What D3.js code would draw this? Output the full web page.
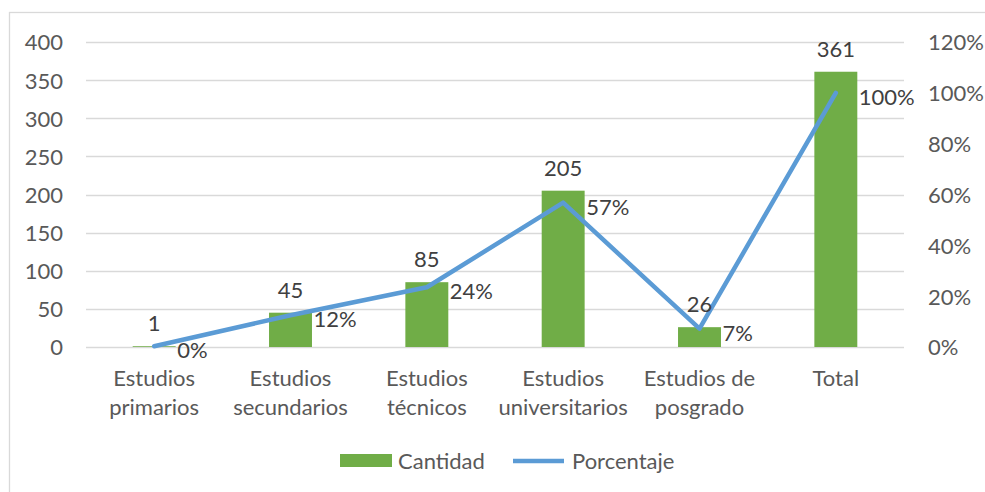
<!DOCTYPE html>
<meta charset="utf-8">
<style>
body { margin: 0; background: #fff; }
svg text { font-family: Lato, "Open Sans", sans-serif; }
.tick text { fill: #595959; font-size: 22px; }
.grid line { stroke: #d9d9d9; stroke-width: 1.3; }
.lbl { fill: #404040; font-size: 22px; }
.cat { fill: #595959; font-size: 22px; }
</style>
<div id="chart"></div>
<script src="https://cdn.jsdelivr.net/npm/d3@7/dist/d3.min.js"></script>
<script>
var categorias = [["Estudios", "primarios"], ["Estudios", "secundarios"], ["Estudios", "técnicos"],
                  ["Estudios", "universitarios"], ["Estudios de", "posgrado"], ["Total"]]
var cantidad = [1, 45, 85, 205, 26, 361]
var porcentaje = [0.0028, 0.125, 0.235, 0.568, 0.072, 1.0]
var etiquetasPct = ["0%", "12%", "24%", "57%", "7%", "100%"]
var ticksIzq = [0, 50, 100, 150, 200, 250, 300, 350, 400]
var ticksDer = [0, 0.2, 0.4, 0.6, 0.8, 1.0, 1.2]

var width = 985, height = 492
var m = {left: 86, right: 904, top: 42, bottom: 347}

var svg = d3.select("#chart").append("svg")
    .attr("width", width)
    .attr("height", height)

// marco del grafico
svg.append("rect")
    .attr("x", 9.5).attr("y", 12.5)
    .attr("width", 1000).attr("height", 500)
    .attr("fill", "none").attr("stroke", "#d9d9d9").attr("stroke-width", 1.3)

var x = d3.scaleBand()
    .domain(d3.range(categorias.length))
    .range([m.left, m.right])

var y = d3.scaleLinear().domain([0, 400]).range([m.bottom, m.top])
var y2 = d3.scaleLinear().domain([0, 1.2]).range([m.bottom, m.top])

// lineas de cuadricula
svg.append("g").attr("class", "grid")
  .selectAll("line").data(ticksIzq)
  .enter().append("line")
    .attr("x1", m.left).attr("x2", m.right)
    .attr("y1", function(d){ return Math.round(y(d)) + 0.5 })
    .attr("y2", function(d){ return Math.round(y(d)) + 0.5 })

// eje izquierdo
var ejeIzq = svg.append("g")
    .attr("transform", "translate(" + (m.left - 23) + ",0)")
    .call(d3.axisLeft(y).tickValues(ticksIzq).tickSize(0).tickPadding(0))
ejeIzq.select(".domain").remove()
ejeIzq.selectAll("text").attr("dy", "0.36em")

// eje derecho
var ejeDer = svg.append("g")
    .attr("transform", "translate(" + (m.right + 24) + ",0)")
    .call(d3.axisRight(y2).tickValues(ticksDer).tickSize(0).tickPadding(0)
      .tickFormat(d3.format(".0%")))
ejeDer.select(".domain").remove()
ejeDer.selectAll("text").attr("dy", "0.36em")

// barras
var anchoBarra = x.bandwidth() * 0.315
function cx(i) { return x(i) + x.bandwidth() / 2 }

svg.append("g").selectAll("rect").data(cantidad)
  .enter().append("rect")
    .attr("x", function(d, i){ return cx(i) - anchoBarra / 2 })
    .attr("y", function(d){ return y(d) })
    .attr("width", anchoBarra)
    .attr("height", function(d){ return y(0) - y(d) })
    .attr("fill", "#70ad47")

// linea de porcentaje
var linea = d3.line()
    .x(function(d, i){ return cx(i) })
    .y(function(d){ return y2(d) })

svg.append("path")
    .datum(porcentaje)
    .attr("d", linea)
    .attr("fill", "none")
    .attr("stroke", "#5b9bd5")
    .attr("stroke-width", 4.5)
    .attr("stroke-linejoin", "round")
    .attr("stroke-linecap", "round")

// etiquetas de cantidad
svg.append("g").selectAll("text").data(cantidad)
  .enter().append("text")
    .attr("class", "lbl")
    .attr("x", function(d, i){ return cx(i) })
    .attr("y", function(d){ return y(d) - 15 })
    .attr("text-anchor", "middle")
    .text(function(d){ return d })

// etiquetas de porcentaje
svg.append("g").selectAll("text").data(porcentaje)
  .enter().append("text")
    .attr("class", "lbl")
    .attr("x", function(d, i){ return cx(i) + 23 })
    .attr("y", function(d){ return y2(d) + 4 })
    .attr("dy", "0.36em")
    .text(function(d, i){ return etiquetasPct[i] })

// categorias
var cats = svg.append("g").selectAll("text").data(categorias)
  .enter().append("text")
    .attr("class", "cat")
    .attr("text-anchor", "middle")
    .attr("x", function(d, i){ return cx(i) })
    .attr("y", 386)
cats.selectAll("tspan").data(function(d){ return d })
  .enter().append("tspan")
    .attr("x", function(){ return d3.select(this.parentNode).attr("x") })
    .attr("dy", function(d, j){ return j == 0 ? 0 : 29 })
    .text(function(d){ return d })

// leyenda
var ley = svg.append("g")
ley.append("rect")
    .attr("x", 340).attr("y", 454).attr("width", 52).attr("height", 13)
    .attr("fill", "#70ad47")
ley.append("text").attr("class", "cat")
    .attr("x", 398).attr("y", 461).attr("dy", "0.36em").text("Cantidad")
ley.append("line")
    .attr("x1", 513).attr("x2", 564).attr("y1", 461).attr("y2", 461)
    .attr("stroke", "#5b9bd5").attr("stroke-width", 4.5)
ley.append("text").attr("class", "cat")
    .attr("x", 572).attr("y", 461).attr("dy", "0.36em").text("Porcentaje")
</script>
